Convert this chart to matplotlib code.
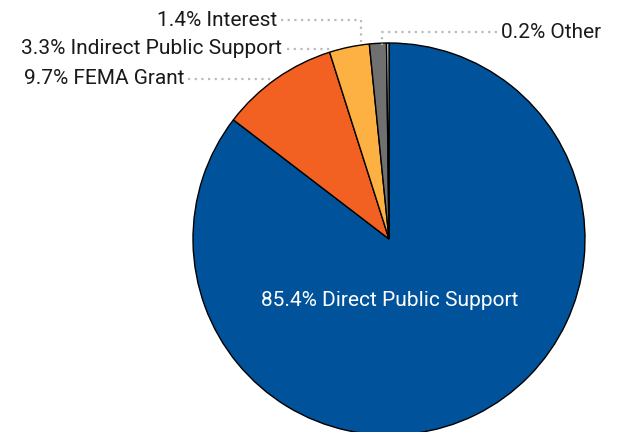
import numpy as np
from matplotlib import pyplot as plt

plt.rcParams['font.family'] = ['Roboto', 'DejaVu Sans']

# 数据
labels = ['Direct Public Support', 'FEMA Grant', 'Indirect Public Support', 'Interest', 'Other']
shares = [85.4, 9.7, 3.3, 1.4, 0.2]
colors = ['#00529B', '#F26122', '#FDB143', '#707070', '#EEEEEE']

fig = plt.figure(figsize=(6.24, 4.32), dpi=100)
ax = fig.add_axes([0, 0, 1, 1])

# 饼图中心 (389,239) 像素，半径 196 像素
R = 196.0
cx, cy = 389.0, 239.0


def p(px, py):
    # 像素坐标 -> 数据坐标
    return ((px - cx) / R, (cy - py) / R)


ax.pie(shares, colors=colors, startangle=90, counterclock=False, radius=1,
       wedgeprops=dict(edgecolor='black', linewidth=1), frame=True)
ax.set_xlim(-cx / R, (624 - cx) / R)
ax.set_ylim(-(432 - cy) / R, cy / R)
ax.set_aspect('auto')
ax.axis('off')

fs = 15
lc = '#BBBBBB'

# 主标签
ax.text(*p(390, 300), f'{shares[0]}% {labels[0]}', color='white', fontsize=fs,
        ha='center', va='center')

# 引线
def leader(pts):
    xs, ys = zip(*[p(a, b) for a, b in pts])
    ax.plot(xs, ys, linestyle=(0, (1, 2)), color=lc, linewidth=1.6)

leader([(188, 79), (272, 79)])
leader([(287, 49), (333, 49)])
leader([(281, 20), (361, 20), (361, 42)])
leader([(497, 32), (382, 32), (382, 45)])

tc = '#1A1A1A'
ax.text(*p(184, 79), f'{shares[1]}% {labels[1]}', fontsize=fs, ha='right', va='center', color=tc)
ax.text(*p(282, 49), f'{shares[2]}% {labels[2]}', fontsize=fs, ha='right', va='center', color=tc)
ax.text(*p(277, 20), f'{shares[3]}% {labels[3]}', fontsize=fs, ha='right', va='center', color=tc)
ax.text(*p(501, 32), f'{shares[4]}% {labels[4]}', fontsize=fs, ha='left', va='center', color=tc)

fig.savefig('out.png', dpi=100)
